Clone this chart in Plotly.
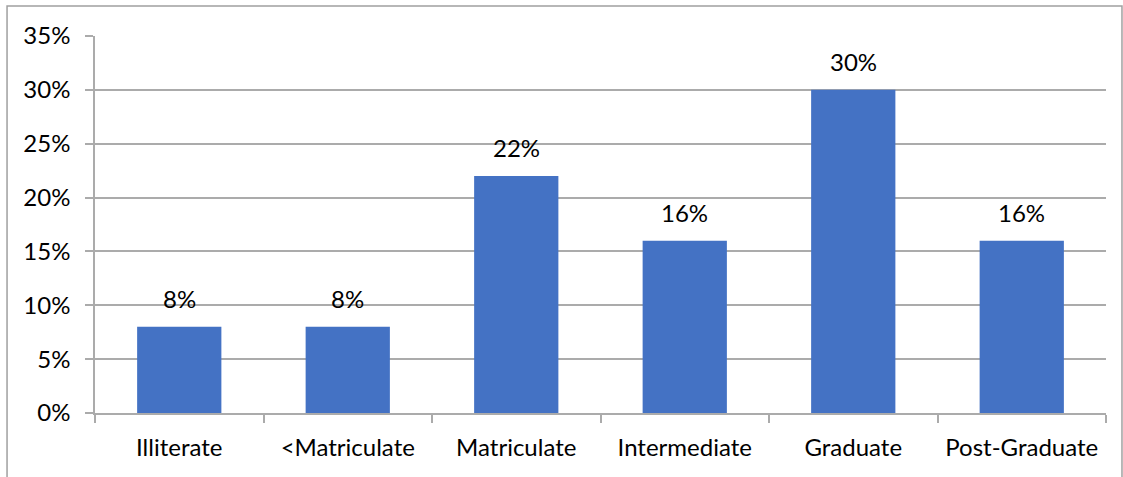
import plotly.graph_objects as go

categories = ["Illiterate", "<Matriculate", "Matriculate", "Intermediate", "Graduate", "Post-Graduate"]
values = [0.08, 0.08, 0.22, 0.16, 0.30, 0.16]
labels = ["8%", "8%", "22%", "16%", "30%", "16%"]

FONT = "Lato, Carlito, Calibri, sans-serif"
GRID = "#ABABAB"
FS = 24

fig = go.Figure()
fig.add_trace(go.Bar(x=categories, y=values, marker=dict(color="#4472C4", line=dict(width=0)),
                     width=0.5))

for c, v, t in zip(categories, values, labels):
    fig.add_annotation(x=c, y=v, text=t, showarrow=False, yanchor="bottom", yshift=12,
                       font=dict(size=FS, color="#000000", family=FONT))

fig.add_shape(type="rect", xref="paper", yref="paper", x0=-0.087, x1=1.0158, y0=-0.3, y1=1.0796,
              line=dict(color="#A0A0A0", width=1.5), fillcolor="rgba(0,0,0,0)", layer="above")

fig.update_layout(
    width=1123, height=477,
    margin=dict(l=95, r=17, t=36, b=64),
    paper_bgcolor="white", plot_bgcolor="white",
    showlegend=False,
    font=dict(family=FONT, size=FS, color="#000000"),
    bargap=0.5,
)
fig.update_xaxes(showline=True, linecolor=GRID, linewidth=1.5, ticks="outside", tickson="boundaries",
                 ticklen=8, tickcolor=GRID, tickwidth=1.5, showgrid=False,
                 tickfont=dict(size=FS, family=FONT, color="#000000"), ticklabelstandoff=12)
fig.update_yaxes(range=[0, 0.35], dtick=0.05, tickformat=".0%", showline=True, linecolor=GRID, linewidth=1.5,
                 ticks="outside", ticklen=8, tickcolor=GRID, tickwidth=1.5,
                 showgrid=True, gridcolor=GRID, gridwidth=1.5, zeroline=False,
                 tickfont=dict(size=FS, family=FONT, color="#000000"), ticklabelstandoff=10)

fig.write_html("out.html")
